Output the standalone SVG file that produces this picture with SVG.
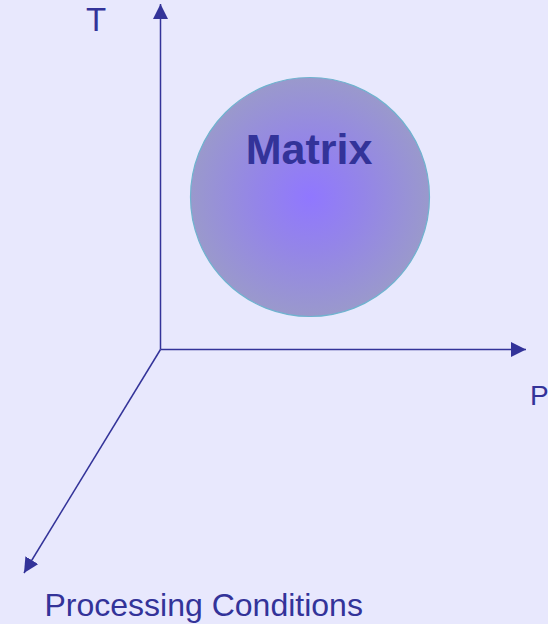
<svg xmlns="http://www.w3.org/2000/svg" width="548" height="624" viewBox="0 0 548 624">
<defs>
<style>
.ax{stroke:#333399;stroke-width:1.5;fill:none}
.lbl{font-family:"Liberation Sans",Arial,sans-serif;fill:#333399}
</style>
<radialGradient id="g" cx="0.5" cy="0.5" r="0.5">
<stop offset="0" stop-color="#9077ff"/>
<stop offset="0.45" stop-color="#9485e8"/>
<stop offset="1" stop-color="#9a99cc"/>
</radialGradient>
<marker id="ah" viewBox="0 0 15 15" refX="15" refY="7.5" markerWidth="15" markerHeight="15" markerUnits="userSpaceOnUse" orient="auto">
<path d="M0,0 L15,7.5 L0,15 Z" fill="#333399"/>
</marker>
</defs>
<rect width="548" height="624" fill="#e8e8fd"/>
<g id="connectors">
<line class="ax" x1="160.5" y1="349.5" x2="160.5" y2="4" marker-end="url(#ah)"/>
<line class="ax" x1="160.5" y1="349.5" x2="526" y2="349.5" marker-end="url(#ah)"/>
<line class="ax" x1="160.5" y1="349.5" x2="24" y2="573" marker-end="url(#ah)"/>
</g>
<g id="matrix">
<circle cx="310" cy="197" r="119.5" fill="url(#g)" stroke="#6fb3cf" stroke-width="1.2"/>
<text class="lbl" x="309" y="164" font-size="43" font-weight="bold" text-anchor="middle">Matrix</text>
</g>
<g id="label-t"><text class="lbl" x="86" y="31" font-size="33">T</text></g>
<g id="label-p"><text class="lbl" x="530" y="405" font-size="28">P</text></g>
<g id="label-pc"><text class="lbl" x="44.5" y="616" font-size="32">Processing Conditions</text></g>
</svg>
